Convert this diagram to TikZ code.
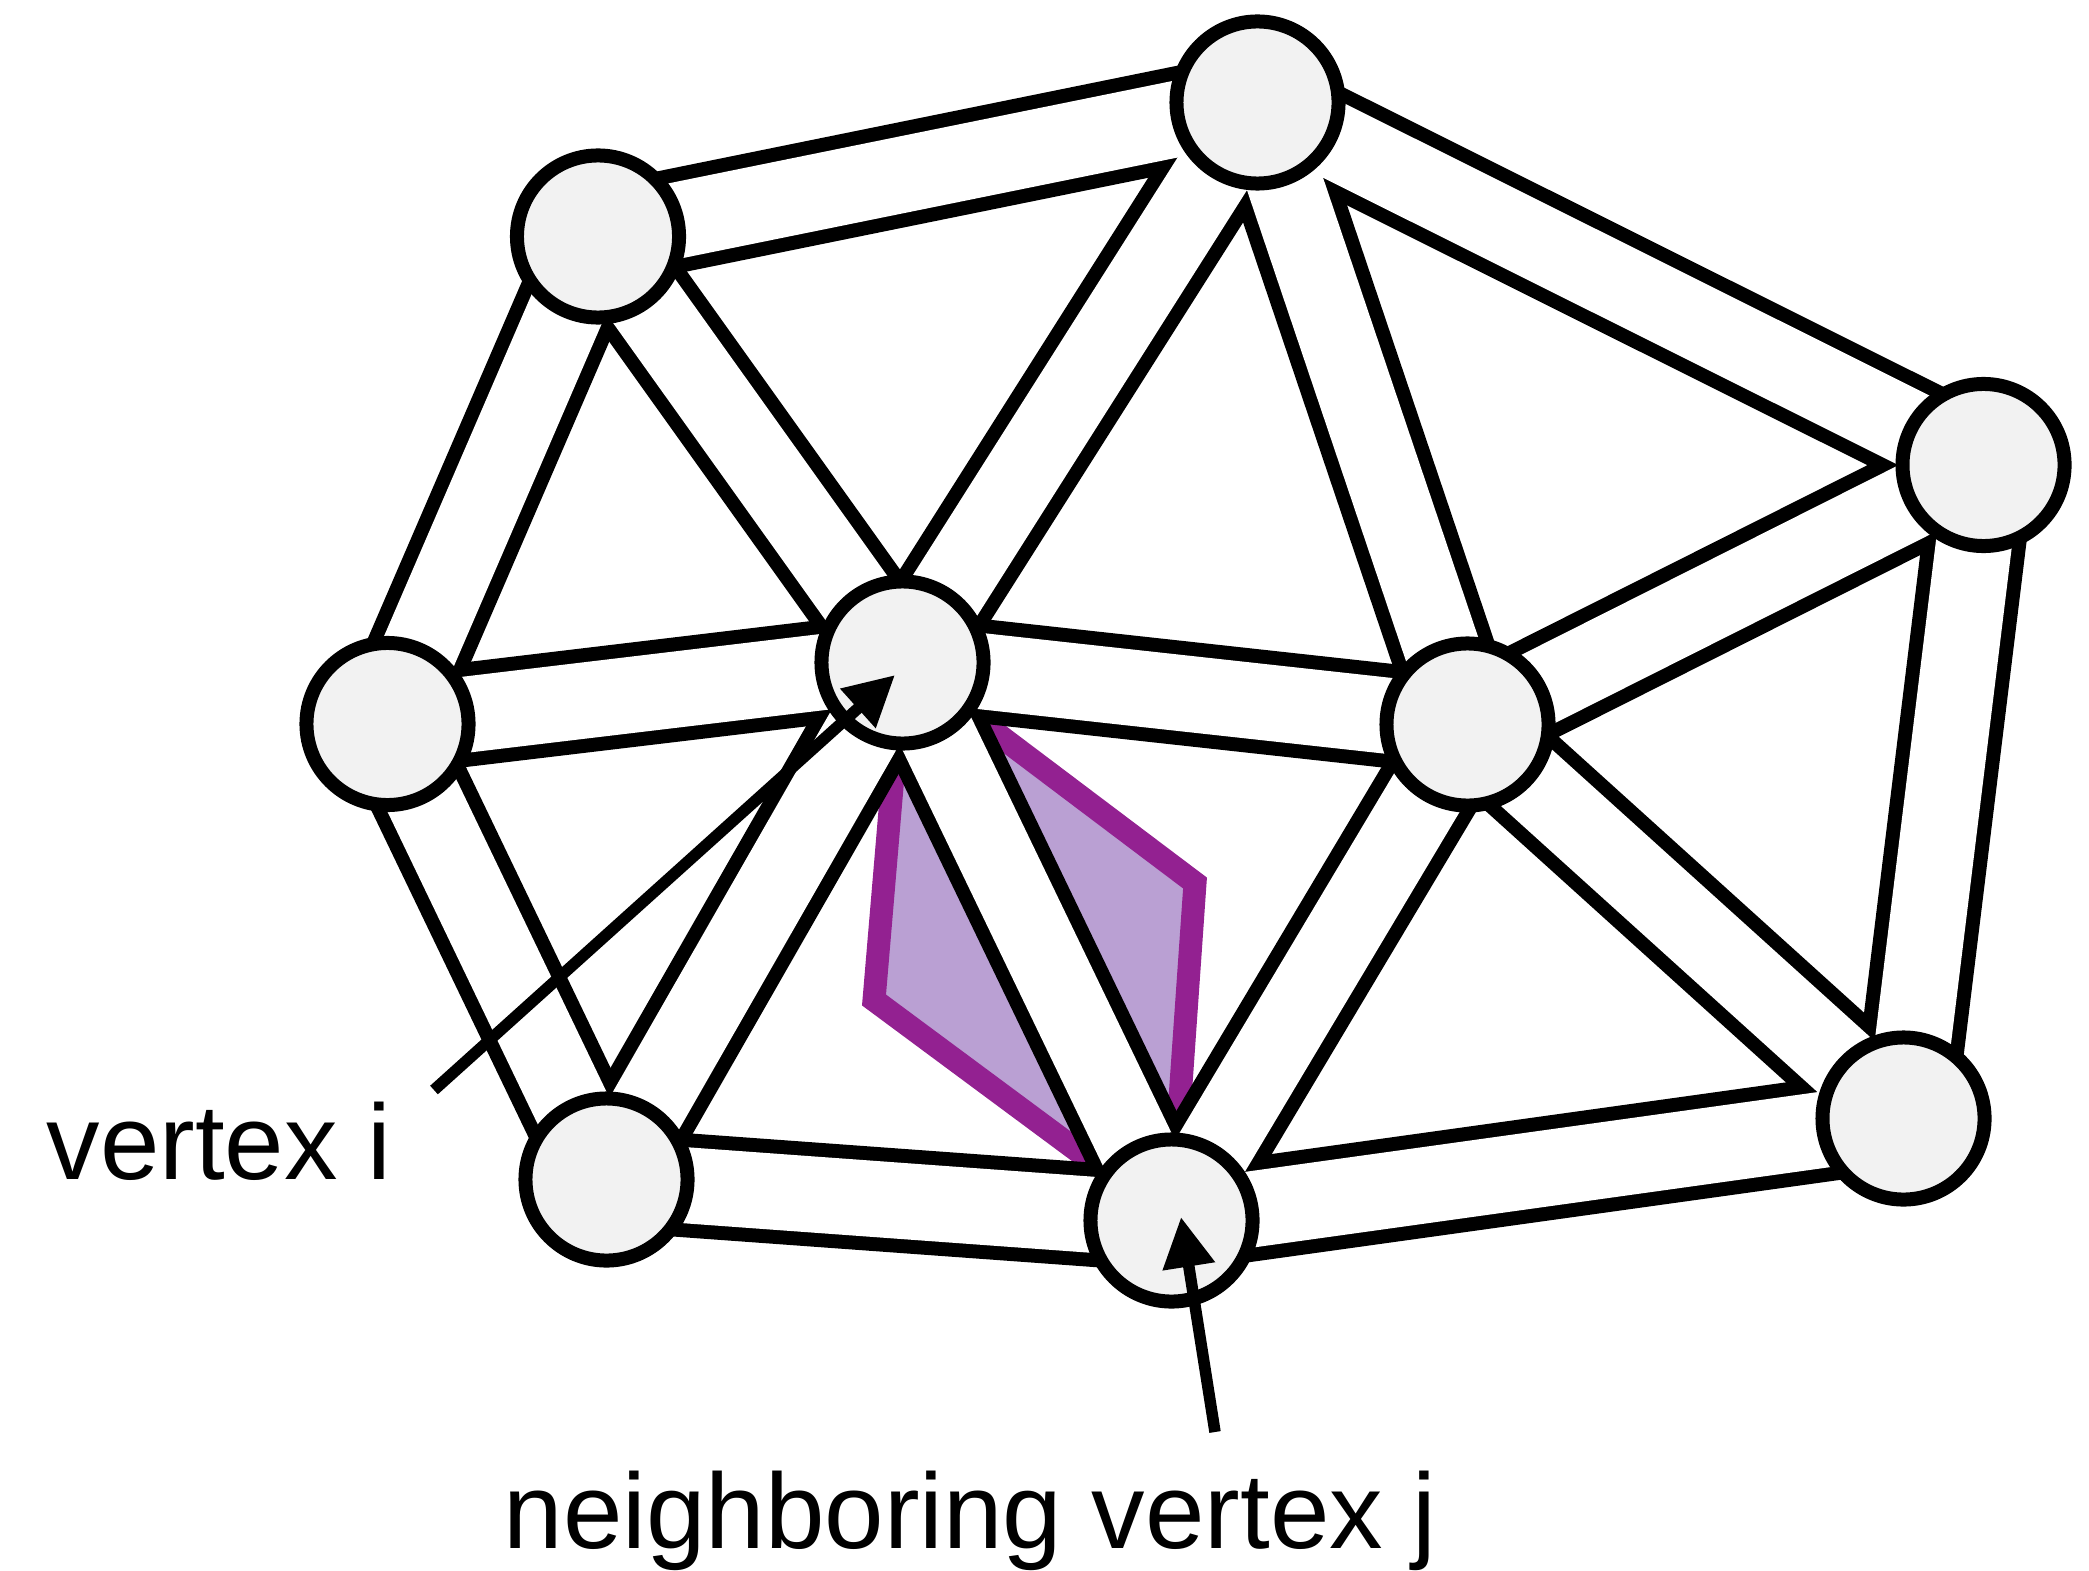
\documentclass[tikz,border=0pt]{standalone}
\usepackage{fontspec}
\setmainfont{Liberation Sans}
\usetikzlibrary{arrows.meta}
\definecolor{vfill}{RGB}{242,242,242}
\definecolor{pstroke}{RGB}{147,33,145}
\definecolor{pfill}{RGB}{186,160,211}
\pgfdeclarelayer{cells}
\pgfdeclarelayer{tubes}
\pgfsetlayers{cells,tubes,main}

\begin{document}
\begin{tikzpicture}[x=0.01cm,y=-0.01cm,
  vtx/.style={circle,draw=black,fill=vfill,line width=0.14cm,minimum size=1.62cm,inner sep=0pt},
  tubeedge/.style={line width=1.04cm,black},
  tubecore/.style={line width=0.76cm,white},
  cell/.style={draw=pstroke,fill=pfill,line width=0.23cm,line join=miter},
  ptr/.style={line width=0.115cm,-{Triangle[length=0.5cm,width=0.5cm]}},
  lbl/.style={font=\fontsize{30.4}{36}\selectfont,inner sep=0pt}]

\useasboundingbox (0,0) rectangle (2089,1570);

% mesh vertices
\node[vtx] (A) at (598,236.5) {};
\node[vtx] (B) at (1257.5,102.5) {};
\node[vtx] (C) at (1983.5,465) {};
\node[vtx] (D) at (387.5,724) {};
\node[vtx] (E) at (902.5,662.5) {};
\node[vtx] (F) at (1467.5,724.5) {};
\node[vtx] (G) at (606.5,1179.5) {};
\node[vtx] (H) at (1171.5,1220.5) {};
\node[vtx] (I) at (1903.5,1118.5) {};

% edges as tubes: black outer stroke, white core on top
\begin{pgfonlayer}{tubes}
  \foreach \u/\v in {A/B,A/D,A/E,B/E,B/F,B/C,C/F,C/I,D/E,D/G,E/G,E/F,E/H,F/H,F/I,G/H,H/I}
    \draw[tubeedge] (\u.center) -- (\v.center);
  \foreach \u/\v in {A/B,A/D,A/E,B/E,B/F,B/C,C/F,C/I,D/E,D/G,E/G,E/F,E/H,F/H,F/I,G/H,H/I}
    \draw[tubecore] (\u.center) -- (\v.center);
\end{pgfonlayer}

% shaded cells on both sides of edge i--j
\coordinate (P) at (874,1000);
\coordinate (Q) at (1195,883);
\begin{pgfonlayer}{cells}
  \draw[cell] (E.center) -- (P) -- (H.center) -- cycle;
  \draw[cell] (E.center) -- (Q) -- (H.center) -- cycle;
\end{pgfonlayer}

% labels and pointers
\node[lbl,anchor=base west] (li) at (46,1179) {vertex i};
\node[lbl,anchor=base west] (lj) at (503,1548) {neighboring vertex j};
\coordinate (itail) at (434,1090);
\coordinate (itip) at (895,675);
\coordinate (jtail) at (1215,1432);
\coordinate (jtip) at (1181,1217);
\draw[ptr] (itail) -- (itip);
\draw[ptr] (jtail) -- (jtip);
\end{tikzpicture}
\end{document}
